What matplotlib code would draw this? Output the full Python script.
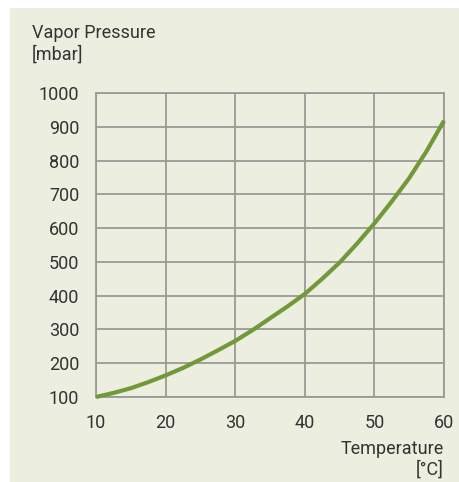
import matplotlib.pyplot as plt
import matplotlib.patches as patches

# Vapor pressure curve
temperature = [10, 12.5, 15, 17.5, 20, 22.5, 25, 27.5, 30, 32.5, 35,
               37.5, 40, 42.5, 45, 47.5, 50, 52.5, 55, 57.5, 60]
pressure = [100, 112, 126, 144, 164, 186, 211, 238, 266, 298, 333,
            368, 405, 450, 498, 554, 614, 679, 748, 828, 918]

x_ticks = [10, 20, 30, 40, 50, 60]
y_ticks = [100, 200, 300, 400, 500, 600, 700, 800, 900, 1000]

bg = '#eceee0'
grid_col = '#9a9a96'
text_col = '#333333'
line_col = '#71993a'

plt.rcParams['font.family'] = ['Roboto', 'DejaVu Sans']

fig = plt.figure(figsize=(4.59, 4.82), dpi=100)
fig.patch.set_facecolor('white')
fig.patches.append(patches.Rectangle((10 / 459, 0), 1, 1 - 8 / 482,
                                     transform=fig.transFigure,
                                     facecolor=bg, edgecolor='none', zorder=-10))

ax = fig.add_axes([96 / 459, 1 - 397 / 482, 348 / 459, 304 / 482])
ax.set_facecolor(bg)
ax.plot(temperature, pressure, color=line_col, lw=3.0, solid_capstyle='butt',
        solid_joinstyle='round', zorder=3, clip_on=False)

ax.set_xlim(10, 60)
ax.set_ylim(100, 1000)
ax.set_xticks(x_ticks)
ax.set_yticks(y_ticks)
ax.grid(True, color=grid_col, lw=1.3)
for s in ax.spines.values():
    s.set_color(grid_col)
    s.set_linewidth(1.3)
ax.tick_params(length=0, labelsize=13, colors=text_col)
ax.tick_params(axis='x', pad=12)
ax.tick_params(axis='y', pad=12)

fig.text(32 / 459, 1 - 33 / 482, 'Vapor Pressure', fontsize=13,
         color=text_col, va='center', ha='left')
fig.text(32 / 459, 1 - 55 / 482, '[mbar]', fontsize=13,
         color=text_col, va='center', ha='left')
fig.text(444 / 459, 1 - 449 / 482, 'Temperature', fontsize=13,
         color=text_col, va='center', ha='right')
fig.text(444 / 459, 1 - 470 / 482, '[°C]', fontsize=13,
         color=text_col, va='center', ha='right')

fig.savefig('out.png', dpi=100, facecolor=fig.get_facecolor())
